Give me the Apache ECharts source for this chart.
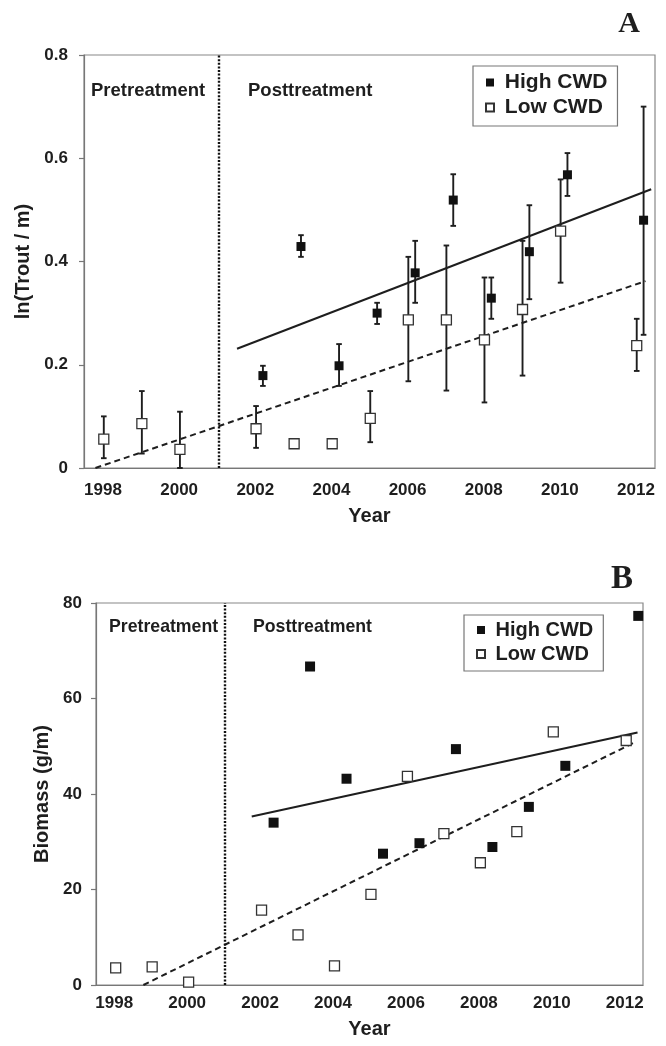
<!DOCTYPE html>
<html><head><meta charset="utf-8">
<script src="https://cdn.jsdelivr.net/npm/echarts@6/dist/echarts.min.js"></script>
<style>html,body{margin:0;padding:0;background:#fff}#c{width:666px;height:1046px}</style>
</head><body><div id="c"></div>
<script>
// ---------- data ----------
const yearLabels = ['1998','1999','2000','2001','2002','2003','2004','2005','2006','2007','2008','2009','2010','2011','2012'];
const treatmentYear = 2001.03;

// Panel A: ln(Trout / m)
const aLowYears  = [1998,1999,2000,2002,2003,2004,2005,2006,2007,2008,2009,2010,2012];
const aLowVal    = [0.056,0.086,0.036,0.076,0.047,0.047,0.096,0.287,0.287,0.248,0.307,0.459,0.237];
const aLowErrLo  = [0.019,0.028,0.000,0.039,0.044,null,0.050,0.168,0.150,0.127,0.179,0.359,0.188];
const aLowErrHi  = [0.100,0.149,0.109,0.120,0.051,null,0.149,0.409,0.431,0.369,0.440,0.559,0.289];
const aHighYears = [2002,2003,2004,2005,2006,2007,2008,2009,2010,2012];
const aHighVal   = [0.179,0.429,0.198,0.300,0.378,0.519,0.329,0.419,0.568,0.480];
const aHighErrLo = [0.159,0.409,0.159,0.279,0.320,0.469,0.289,0.327,0.527,0.258];
const aHighErrHi = [0.198,0.451,0.240,0.320,0.440,0.569,0.369,0.509,0.610,0.700];
const aTrendHigh = [[2001.52,0.231],[2012.40,0.540]];
const aTrendLow  = [[1997.80,0.000],[2012.25,0.362]];

// Panel B: Biomass (g/m)
const bLowYears  = [1998,1999,2000,2002,2003,2004,2005,2006,2007,2008,2009,2010,2012];
const bLowVal    = [3.6,3.8,0.6,15.7,10.5,4.0,19.0,43.7,31.7,25.6,32.1,53.0,51.2];
const bHighYears = [2002,2003,2004,2005,2006,2007,2008,2009,2010,2012];
const bHighVal   = [34.0,66.7,43.2,27.5,29.7,49.4,28.9,37.3,45.9,77.3];
const bTrendHigh = [[2001.77,35.3],[2012.35,52.9]];
const bTrendLow  = [[1998.80,0.0],[2012.24,50.7]];

// ---------- chart ----------
const F = "'Liberation Sans', Arial, Helvetica, sans-serif";
const TXT = '#1e1e1e';
const AX = '#777';
const chart = echarts.init(document.getElementById('c'));

function pts(yrs, vals, off){ return yrs.map((y,i)=>[y+off, vals[i]]); }
function errs(yrs, lo, hi, off){
  const out = [];
  yrs.forEach((y,i)=>{ if(lo[i]!=null) out.push([y+off, lo[i], hi[i]]); });
  return out;
}
function errRender(params, api){
  const x = api.value(0);
  const p1 = api.coord([x, api.value(1)]), p2 = api.coord([x, api.value(2)]);
  const w = 2.8;
  const st = {stroke:'#1e1e1e', lineWidth:1.9};
  return {type:'group', children:[
    {type:'line', shape:{x1:p1[0],y1:p1[1],x2:p2[0],y2:p2[1]}, style:st},
    {type:'line', shape:{x1:p1[0]-w,y1:p1[1],x2:p1[0]+w,y2:p1[1]}, style:st},
    {type:'line', shape:{x1:p2[0]-w,y1:p2[1],x2:p2[0]+w,y2:p2[1]}, style:st}
  ]};
}

function catAxis(g, labelMargin, nameGap){
  return {type:'category', gridIndex:g, data:yearLabels, boundaryGap:true, position:'bottom',
    axisLine:{lineStyle:{color:AX,width:1.2}},
    axisTick:{interval:0,length:5,lineStyle:{color:AX,width:1.2}},
    axisLabel:{interval:1,color:TXT,fontFamily:F,fontWeight:'bold',fontSize:17,margin:labelMargin},
    name:'Year', nameLocation:'middle', nameGap:nameGap,
    nameTextStyle:{color:TXT,fontFamily:F,fontWeight:'bold',fontSize:20}};
}
function valX(g){ return {type:'value', gridIndex:g, min:1997.5, max:2012.5, show:false}; }
function valY(g, max, interval, name, nameGap, labelMargin){
  return {type:'value', gridIndex:g, min:0, max:max, interval:interval,
    splitLine:{show:false},
    axisLine:{show:true,lineStyle:{color:AX,width:1.2}},
    axisTick:{show:true,length:5,lineStyle:{color:AX,width:1.2}},
    axisLabel:{color:TXT,fontFamily:F,fontWeight:'bold',fontSize:17,margin:labelMargin},
    name:name, nameLocation:'middle', nameGap:nameGap,
    nameTextStyle:{color:TXT,fontFamily:F,fontWeight:'bold',fontSize:20}};
}
function lowScatter(xi, yi, data, size){
  return {name:'Low CWD', type:'scatter', xAxisIndex:xi, yAxisIndex:yi, data:data, symbol:'rect', symbolSize:size,
    itemStyle:{color:'#fff',borderColor:'#333',borderWidth:1.3,opacity:1}, z:5, silent:true};
}
function highScatter(xi, yi, data, size){
  return {name:'High CWD', type:'scatter', xAxisIndex:xi, yAxisIndex:yi, data:data, symbol:'rect', symbolSize:size,
    itemStyle:{color:'#111',opacity:1}, z:6, silent:true};
}
function trend(xi, yi, data, dashed){
  return {type:'line', xAxisIndex:xi, yAxisIndex:yi, data:data, symbol:'none', silent:true, z:3,
    lineStyle:{color:'#1e1e1e', width: 2, type: dashed?[6,4]:'solid'}};
}
function divider(xi, yi){
  return {type:'line', xAxisIndex:xi, yAxisIndex:yi, data:[], silent:true,
    markLine:{silent:true, symbol:'none', label:{show:false},
      lineStyle:{color:'#111', width:2.4, type:[2,1.6]}, data:[{xAxis:treatmentYear}]}};
}
function legendAt(left, top, fs, pad){
  return {left:left, top:top, orient:'vertical', selectedMode:false, icon:'rect',
    data:['High CWD','Low CWD'], itemWidth:8, itemHeight:8, itemGap:4, padding:pad,
    borderColor:'#777', borderWidth:1.2,
    formatter: n => ' ' + n,
    textStyle:{color:TXT,fontFamily:F,fontWeight:'bold',fontSize:fs}};
}
function txt(x, y, s, font, align){
  return {type:'text', x:x, y:y, silent:true,
    style:{text:s, font:font, fill:TXT, align:align||'left', verticalAlign:'middle'}};
}

const lowOffA = 0.02, highOffA = 0.2, lowOffB = 0.04, highOffB = 0.37;

chart.setOption({
  animation:false,
  backgroundColor:'#fff',
  grid:[
    {left:84, top:55, width:571, height:413, show:true, borderColor:'#888', borderWidth:1.2},
    {left:96, top:603, width:547, height:382, show:true, borderColor:'#888', borderWidth:1.2}
  ],
  xAxis:[catAxis(0,14,38), valX(0), catAxis(1,10,34), valX(1)],
  yAxis:[valY(0,0.8,0.2,'ln(Trout / m)',48,16), valY(1,80,20,'Biomass (g/m)',42,14)],
  legend:[legendAt(473,66,21,[6,10,8,12]), legendAt(464,615,20,[5,10,7,12])],
  graphic:[
    txt(91,91,'Pretreatment','bold 18.5px ' + F),
    txt(248,91,'Posttreatment','bold 18.5px ' + F),
    txt(109,627,'Pretreatment','bold 17.7px ' + F),
    txt(253,627,'Posttreatment','bold 17.7px ' + F),
    txt(629,24,'A',"bold 30px 'Liberation Serif', 'Times New Roman', serif",'center'),
    txt(622,579,'B',"bold 33px 'Liberation Serif', 'Times New Roman', serif",'center')
  ],
  series:[
    divider(1,0),
    trend(1,0,aTrendHigh,false),
    trend(1,0,aTrendLow,true),
    {type:'custom', xAxisIndex:1, yAxisIndex:0, renderItem:errRender, data:errs(aLowYears,aLowErrLo,aLowErrHi,lowOffA), z:4, silent:true, encode:{x:0,y:[1,2]}},
    {type:'custom', xAxisIndex:1, yAxisIndex:0, renderItem:errRender, data:errs(aHighYears,aHighErrLo,aHighErrHi,highOffA), z:4, silent:true, encode:{x:0,y:[1,2]}},
    lowScatter(1,0,pts(aLowYears,aLowVal,lowOffA),10),
    highScatter(1,0,pts(aHighYears,aHighVal,highOffA),9),

    divider(3,1),
    trend(3,1,bTrendHigh,false),
    trend(3,1,bTrendLow,true),
    lowScatter(3,1,pts(bLowYears,bLowVal,lowOffB),10),
    highScatter(3,1,pts(bHighYears,bHighVal,highOffB),10)
  ]
});
</script>
</body></html>
